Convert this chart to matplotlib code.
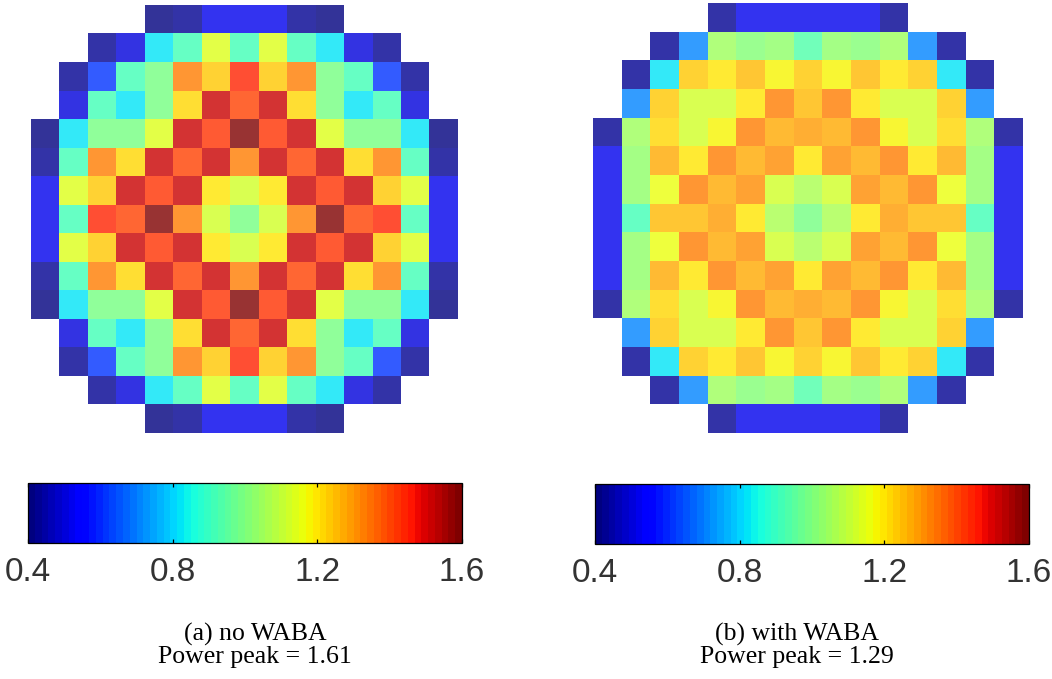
import numpy as np
import matplotlib
matplotlib.use("Agg")
import matplotlib.pyplot as plt
from matplotlib.colors import Normalize
from matplotlib.cm import ScalarMappable

nan = np.nan

# Assembly-wise relative power, no WABA (15x15 core map, NaN = outside core)
power_no_waba = [
    [nan, nan, nan, nan, .41, .43, .52, .52, .52, .43, .41, nan, nan, nan, nan],
    [nan, nan, .42, .50, .83, .92, 1.14, .92, 1.14, .92, .83, .50, .42, nan, nan],
    [nan, .42, .62, .92, .99, 1.32, 1.23, 1.45, 1.23, 1.32, .99, .92, .62, .42, nan],
    [nan, .50, .92, .83, .99, 1.22, 1.52, 1.40, 1.52, 1.22, .99, .83, .92, .50, nan],
    [.41, .83, .99, .99, 1.14, 1.52, 1.42, 1.61, 1.42, 1.52, 1.14, .99, .99, .83, .41],
    [.43, .92, 1.32, 1.22, 1.52, 1.40, 1.52, 1.32, 1.52, 1.40, 1.52, 1.22, 1.32, .92, .43],
    [.52, 1.14, 1.23, 1.52, 1.42, 1.52, 1.20, 1.13, 1.20, 1.52, 1.42, 1.52, 1.23, 1.14, .52],
    [.52, .92, 1.45, 1.40, 1.61, 1.32, 1.13, .99, 1.13, 1.32, 1.61, 1.40, 1.45, .92, .52],
    [.52, 1.14, 1.23, 1.52, 1.42, 1.52, 1.20, 1.13, 1.20, 1.52, 1.42, 1.52, 1.23, 1.14, .52],
    [.43, .92, 1.32, 1.22, 1.52, 1.40, 1.52, 1.32, 1.52, 1.40, 1.52, 1.22, 1.32, .92, .43],
    [.41, .83, .99, .99, 1.14, 1.52, 1.42, 1.61, 1.42, 1.52, 1.14, .99, .99, .83, .41],
    [nan, .50, .92, .83, .99, 1.22, 1.52, 1.40, 1.52, 1.22, .99, .83, .92, .50, nan],
    [nan, .42, .62, .92, .99, 1.32, 1.23, 1.45, 1.23, 1.32, .99, .92, .62, .42, nan],
    [nan, nan, .42, .50, .83, .92, 1.14, .92, 1.14, .92, .83, .50, .42, nan, nan],
    [nan, nan, nan, nan, .41, .43, .52, .52, .52, .43, .41, nan, nan, nan, nan],
]

# Assembly-wise relative power, with WABA
power_with_waba = [
    [nan, nan, nan, nan, .42, .53, .53, .53, .53, .53, .42, nan, nan, nan, nan],
    [nan, nan, .42, .71, 1.05, 1.01, 1.02, .93, 1.02, 1.01, 1.05, .71, .42, nan, nan],
    [nan, .42, .83, 1.24, 1.20, 1.25, 1.17, 1.24, 1.17, 1.25, 1.20, 1.24, .83, .42, nan],
    [nan, .71, 1.24, 1.12, 1.12, 1.20, 1.32, 1.26, 1.32, 1.20, 1.12, 1.12, 1.24, .71, nan],
    [.42, 1.04, 1.21, 1.12, 1.17, 1.32, 1.27, 1.29, 1.27, 1.32, 1.17, 1.12, 1.21, 1.04, .42],
    [.53, 1.02, 1.27, 1.19, 1.32, 1.27, 1.31, 1.20, 1.31, 1.27, 1.32, 1.19, 1.27, 1.02, .53],
    [.53, 1.02, 1.16, 1.32, 1.27, 1.31, 1.12, 1.07, 1.12, 1.31, 1.27, 1.32, 1.16, 1.02, .53],
    [.53, .92, 1.25, 1.25, 1.29, 1.20, 1.06, 1.00, 1.06, 1.20, 1.29, 1.25, 1.25, .92, .53],
    [.53, 1.02, 1.16, 1.32, 1.27, 1.31, 1.12, 1.07, 1.12, 1.31, 1.27, 1.32, 1.16, 1.02, .53],
    [.53, 1.02, 1.27, 1.19, 1.32, 1.27, 1.31, 1.20, 1.31, 1.27, 1.32, 1.19, 1.27, 1.02, .53],
    [.42, 1.04, 1.21, 1.12, 1.17, 1.32, 1.27, 1.29, 1.27, 1.32, 1.17, 1.12, 1.21, 1.04, .42],
    [nan, .71, 1.24, 1.12, 1.12, 1.20, 1.32, 1.26, 1.32, 1.20, 1.12, 1.12, 1.24, .71, nan],
    [nan, .42, .83, 1.24, 1.20, 1.25, 1.17, 1.24, 1.17, 1.25, 1.20, 1.24, .83, .42, nan],
    [nan, nan, .42, .71, 1.05, 1.01, 1.02, .93, 1.02, 1.01, 1.05, .71, .42, nan, nan],
    [nan, nan, nan, nan, .42, .53, .53, .53, .53, .53, .42, nan, nan, nan, nan],
]

cbar_ticks = [0.4, 0.8, 1.2, 1.6]
cbar_labels = ["0.4", "0.8", "1.2", "1.6"]
captions = [("(a) no WABA", "Power peak = 1.61"),
            ("(b) with WABA", "Power peak = 1.29")]

W, H = 1052, 679
fig = plt.figure(figsize=(W / 100, H / 100), dpi=100)
fig.patch.set_facecolor("white")

cmap = plt.get_cmap("jet", 64).copy()
cmap.set_bad((1, 1, 1, 0))
norm = Normalize(vmin=0.4, vmax=1.6)


def frac(x0, y0, x1, y1):
    return [x0 / W, 1 - y1 / H, (x1 - x0) / W, (y1 - y0) / H]


map_boxes = [frac(31, 5, 458, 433), frac(593, 3, 1023, 433)]
cbar_boxes = [frac(28, 483, 462, 543), frac(595, 484, 1029, 544)]
cap_x = [0.2424, 0.7576]

for data, mbox, cbox, cx, (l1, l2) in zip(
        [power_no_waba, power_with_waba], map_boxes, cbar_boxes, cap_x, captions):
    ax = fig.add_axes(mbox)
    arr = np.ma.masked_invalid(np.array(data, dtype=float))
    ax.imshow(arr, cmap=cmap, norm=norm, alpha=0.8, interpolation="nearest",
              aspect="auto")
    ax.axis("off")

    cax = fig.add_axes(cbox)
    sm = ScalarMappable(norm=norm, cmap=cmap)
    cb = fig.colorbar(sm, cax=cax, orientation="horizontal")
    cb.set_ticks(cbar_ticks)
    cb.set_ticklabels(cbar_labels)
    cb.outline.set_linewidth(0.9)
    cb.outline.set_edgecolor("black")
    cax.tick_params(axis="x", direction="in", top=True, bottom=True,
                    length=3, width=0.9, pad=10, labelsize=24,
                    labelcolor="#333333")
    for t in cax.get_xticklabels():
        t.set_fontfamily("Liberation Sans")

    fig.text(cx, 1 - 641 / H, l1, ha="center", va="baseline",
             fontsize=18.5, family="Liberation Serif", color="black")
    fig.text(cx, 1 - 663 / H, l2, ha="center", va="baseline",
             fontsize=18.5, family="Liberation Serif", color="black")

fig.savefig("out.png", dpi=100, facecolor="white")
